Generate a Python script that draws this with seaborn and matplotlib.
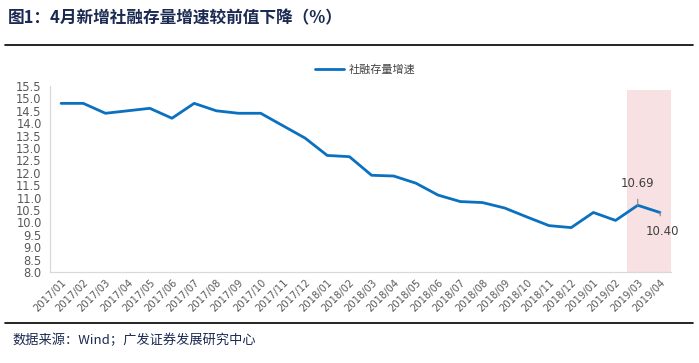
import matplotlib
matplotlib.use("Agg")
import matplotlib.pyplot as plt
import seaborn as sns
import pandas as pd
import numpy as np
from matplotlib.lines import Line2D

months = ["2017/01","2017/02","2017/03","2017/04","2017/05","2017/06","2017/07",
          "2017/08","2017/09","2017/10","2017/11","2017/12","2018/01","2018/02",
          "2018/03","2018/04","2018/05","2018/06","2018/07","2018/08","2018/09",
          "2018/10","2018/11","2018/12","2019/01","2019/02","2019/03","2019/04"]
growth = [14.8, 14.8, 14.4, 14.5, 14.6, 14.2, 14.8, 14.5, 14.4, 14.4, 13.9, 13.4,
          12.7, 12.65, 11.9, 11.87, 11.58, 11.1, 10.84, 10.8, 10.58, 10.22, 9.87, 9.79,
          10.4, 10.08, 10.69, 10.40]
series_name = "社融存量增速"
title = "图1：4月新增社融存量增速较前值下降（%）"
source = "数据来源：Wind；广发证券发展研究中心"
yticks = [8.0, 8.5, 9.0, 9.5, 10.0, 10.5, 11.0, 11.5, 12.0, 12.5, 13.0, 13.5, 14.0, 14.5, 15.0, 15.5]

sns.set_style("white")
plt.rcParams['font.family'] = ['Noto Sans CJK SC', 'DejaVu Sans']

df = pd.DataFrame({"month": months, "x": np.arange(len(months)), "value": growth})

fig = plt.figure(figsize=(6.99, 3.63), dpi=100)
ax = fig.add_axes([50/699, 1-272/363, 621/699, 186/363])

# shaded highlight region (last two months)
ax.axvspan(25.5, 27.5, ymin=0, ymax=(272-90)/186, color="#F8E1E2", lw=0, zorder=0)

sns.lineplot(data=df, x="x", y="value", ax=ax, color="#0A70C0", lw=2.0, zorder=3, legend=False)

ax.set_xlim(-0.5, len(months)-0.5)
ax.set_ylim(8.0, 15.5)
ax.set_yticks(yticks)
ax.set_yticklabels([f"{v:.1f}" for v in yticks], fontsize=8.3, color="#595959", family="DejaVu Sans")
ax.set_xticks(np.arange(len(months)))
ax.set_xticklabels(months, rotation=45, ha="right", rotation_mode="anchor", fontsize=7.2,
                   color="#595959", family="DejaVu Sans")
ax.tick_params(axis="x", length=0, pad=4)
ax.set_xticks(np.arange(-0.5, len(months), 1.0), minor=True)
ax.tick_params(axis="x", which="minor", length=4, color="#D9D9D9", width=0.8, direction="out")
ax.tick_params(axis="y", length=4, color="#D9D9D9", width=0.8, direction="out", pad=2)
ax.set_xlabel("")
ax.set_ylabel("")
for s in ["top", "right"]:
    ax.spines[s].set_visible(False)
for s in ["left", "bottom"]:
    ax.spines[s].set_color("#D9D9D9")
    ax.spines[s].set_linewidth(0.9)

# data labels with leader lines
ax.annotate(f"{growth[26]:.2f}", xy=(26, growth[26]), xytext=(26, growth[26]+0.86),
            ha="center", va="center", fontsize=8.5, color="#404040", family="DejaVu Sans",
            zorder=4,
            arrowprops=dict(arrowstyle="-", color="#8C8C8C", lw=0.9, shrinkA=4, shrinkB=0))
ax.annotate(f"{growth[27]:.2f}", xy=(27, growth[27]), xytext=(27.1, growth[27]-0.75),
            ha="center", va="center", fontsize=8.5, color="#404040", family="DejaVu Sans",
            zorder=4,
            arrowprops=dict(arrowstyle="-", color="#8C8C8C", lw=0.9, shrinkA=4, shrinkB=0))

# legend
handle = [Line2D([0], [0], color="#0A70C0", lw=2.0)]
fig.legend(handle, [series_name], loc="center", bbox_to_anchor=(365/699, 1-70/363),
           frameon=False, fontsize=8, handlelength=2.6, handletextpad=0.4,
           labelcolor="#404040")

# title & source
fig.text(8/699, 1-18/363, title, fontsize=12, fontweight="bold", color="#1B2A52",
         ha="left", va="center")
fig.add_artist(Line2D([5/699, 693/699], [1-45/363, 1-45/363], color="black", lw=1.2))
fig.add_artist(Line2D([5/699, 693/699], [1-323/363, 1-323/363], color="black", lw=1.2))
fig.text(12/699, 1-340/363, source, fontsize=9.5, color="#1B2A52", ha="left", va="center")

fig.savefig("out.png", dpi=100)
